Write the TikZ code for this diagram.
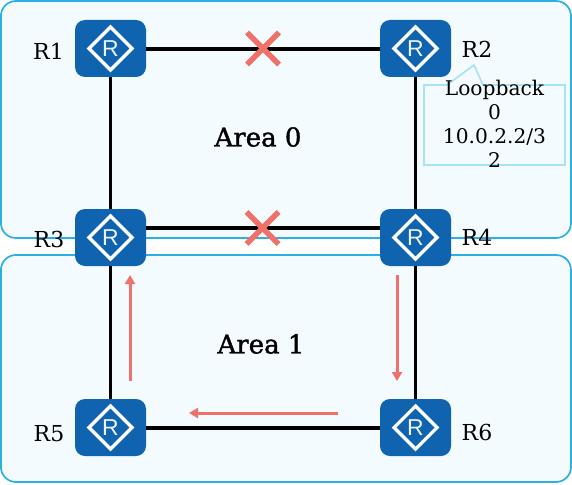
\documentclass[tikz,border=0pt]{standalone}
\usepackage{fontspec}
\setmainfont{DejaVu Serif}
\setsansfont{Liberation Sans}
\newfontfamily\areafont[FakeBold=1.4]{DejaVu Serif}
\usetikzlibrary{arrows.meta}
\definecolor{areafill}{HTML}{F3FBFF}
\definecolor{areaedge}{HTML}{2CB0E4}
\definecolor{routerblue}{HTML}{1063AE}
\definecolor{calloutedge}{HTML}{A8E2F6}
\definecolor{flagred}{HTML}{F07167}
\tikzset{
  x=1pt,y=-1pt,
  areabox/.style={draw=areaedge,fill=areafill,line width=1.7pt,rounded corners=15pt},
  router/.style={draw=none,fill=routerblue,rounded corners=10pt,minimum width=71pt,minimum height=57pt,inner sep=0pt,
    path picture={
      \draw[white,line width=3.2pt,miter limit=10,sharp corners] ([shift={(-21.5pt,0pt)}]path picture bounding box.center) -- ([shift={(0pt,21.5pt)}]path picture bounding box.center) -- ([shift={(21.5pt,0pt)}]path picture bounding box.center) -- ([shift={(0pt,-21.5pt)}]path picture bounding box.center) -- cycle;
      \node[text=white!92!routerblue,font=\sffamily\fontsize{23}{23}\selectfont,inner sep=0pt] at (path picture bounding box.center) {R};
    }},
  link/.style={draw=black,line width=3.2pt},
  flow/.style={draw=flagred,line width=3pt,-{Triangle[length=9pt,width=10pt]}},
  cross/.style={draw=flagred,line width=5.5pt},
  rlabel/.style={font=\fontsize{22}{24}\selectfont,text=black,inner sep=0pt},
  arealabel/.style={font=\areafont\fontsize{26}{28}\selectfont,text=black,inner sep=0pt},
}
\begin{document}
\begin{tikzpicture}
\useasboundingbox (0,0) rectangle (572,484);
\draw[areabox] (0.9,1) rectangle (571,238);
\draw[areabox] (0.9,255) rectangle (571,482);

\node[router] (r1) at (110.5,48.5) {};
\node[router] (r2) at (415.5,48.5) {};
\node[router] (r3) at (110.5,237.5) {};
\node[router] (r4) at (415.5,237.5) {};
\node[router] (r5) at (110.5,427.5) {};
\node[router] (r6) at (415.5,427.5) {};

\draw[link] ([yshift=-0.5pt]r1.east) -- ([yshift=-0.5pt]r2.west);
\draw[link] (r1) -- (r3);
\draw[link] (r2) -- (r4);
\draw[link] ([yshift=9.5pt]r3.east) -- ([yshift=9.5pt]r4.west);
\draw[link] (r3) -- (r5);
\draw[link] (r4) -- (r6);
\draw[link] ([yshift=-0.5pt]r5.east) -- ([yshift=-0.5pt]r6.west);

\node[rlabel] (l1) at (48.5,51) {R1};
\node[rlabel] (l2) at (477,49) {R2};
\node[rlabel] (l3) at (49,239) {R3};
\node[rlabel] (l4) at (477,237) {R4};
\node[rlabel] (l5) at (49,434) {R5};
\node[rlabel] (l6) at (477,432) {R6};

\node[arealabel] (a0) at (258,137) {Area 0};
\node[arealabel] (a1) at (261,344) {Area 1};

\draw[calloutedge,line width=1.7pt] (424,85) -- (447,85) -- (474,65) -- (483,85) -- (565,85) -- (565,165) -- (424,165) -- cycle;
\node[align=center,inner sep=0pt,text=black,font=\fontsize{20.2}{24}\selectfont] (note) at (494.5,124) {Loopback\\0\\10.0.2.2/3\\2};

\coordinate (c1) at (263,48.5);
\draw[cross] ([shift={(-16,-16)}]c1) -- ([shift={(16,16)}]c1);
\draw[cross] ([shift={(-16,16)}]c1) -- ([shift={(16,-16)}]c1);
\coordinate (c2) at (262.5,228);
\draw[cross] ([shift={(-16,-16)}]c2) -- ([shift={(16,16)}]c2);
\draw[cross] ([shift={(-16,16)}]c2) -- ([shift={(16,-16)}]c2);

\coordinate (f1a) at (130,381); \coordinate (f1b) at (130,275);
\coordinate (f2a) at (397,275); \coordinate (f2b) at (397,381);
\coordinate (f3a) at (338,413); \coordinate (f3b) at (189,413);
\draw[flow] (f1a) -- (f1b);
\draw[flow] (f2a) -- (f2b);
\draw[flow] (f3a) -- (f3b);
\end{tikzpicture}
\end{document}
